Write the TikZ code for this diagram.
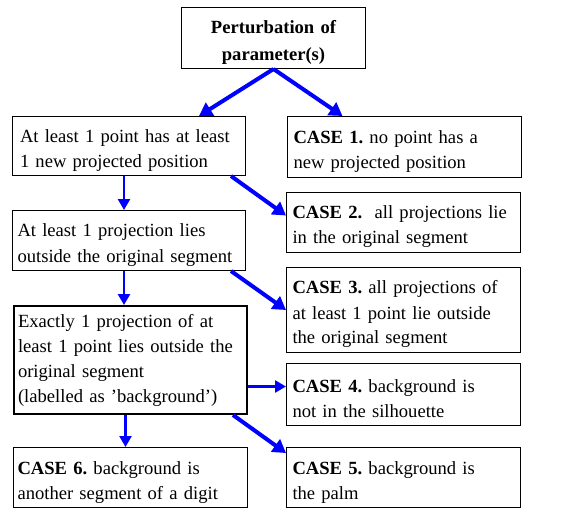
\documentclass[tikz,border=0pt]{standalone}
\usepackage{fontspec}
\setmainfont{Liberation Serif}
\usetikzlibrary{arrows.meta}
\tikzset{
	box/.style={draw,line width=1pt,anchor=north west,align=left,
		font=\fontsize{18.6}{25}\selectfont\frenchspacing,inner ysep=2pt,
		execute at begin node={\rule{0pt}{#1}}},
	box/.default=22pt,
	flow/.style={blue,line width=2.5pt,-{Triangle[length=11pt,width=12pt]}},
	bigflow/.style={blue,line width=4pt,-{Triangle[length=13pt,width=15pt]}}
}
\begin{document}
\begin{tikzpicture}[x=1pt,y=-1pt]
	\useasboundingbox (0,0) rectangle (564,509);
	% boxes
	\node[box,align=center,text width=170pt,minimum height=61pt,inner xsep=7pt,
		font=\fontsize{18.6}{27}\selectfont\bfseries] (top) at (181,7) {Perturbation of\\parameter(s)};
	\node[box,text width=218pt,inner xsep=7.5pt,minimum height=59pt] (least) at (12,116)
		{At least 1 point has at least\\1 new projected position};
	\node[box,text width=222pt,inner xsep=6pt,minimum height=61pt] (case1) at (287,116)
		{\textbf{CASE 1.} no point has a\\new projected position};
	\node[box,text width=223pt,inner xsep=5pt,minimum height=60pt] (outside) at (12,210)
		{At least 1 projection lies\\outside the original segment};
	\node[box,text width=222pt,inner xsep=6pt,minimum height=60pt] (case2) at (286,192)
		{\textbf{CASE 2.}\ \ all projections lie\\in the original segment};
	\node[box,text width=222pt,inner xsep=6pt,minimum height=85pt] (case3) at (286,267)
		{\textbf{CASE 3.} all projections of\\at least 1 point lie outside\\the original segment};
	\node[box=12pt,line width=2pt,text width=225pt,inner xsep=4pt,minimum height=108pt] (exactly) at (13,305)
		{Exactly 1 projection of at\\least 1 point lies outside the\\original segment\\(labelled as ’background’)};
	\node[box,text width=222pt,inner xsep=6pt,minimum height=62pt] (case4) at (286,363)
		{\textbf{CASE 4.} background is\\not in the silhouette};
	\node[box,text width=226pt,inner xsep=4pt,minimum height=60pt] (case6) at (13,447)
		{\textbf{CASE 6.} background is\\another segment of a digit};
	\node[box,text width=222pt,inner xsep=6pt,minimum height=60pt] (case5) at (286,447)
		{\textbf{CASE 5.} background is\\the palm};
	% arrows
	\draw[bigflow] (top.south) -- ([xshift=70pt]least.north);
	\draw[bigflow] (top.south) -- ([xshift=-62pt]case1.north);
	\draw[flow] ([xshift=-5pt]least.south) -- ([xshift=-5pt]least.south |- outside.north);
	\draw[bigflow] ([xshift=-15pt]least.south east) -- ([yshift=7pt]case2.west);
	\draw[flow] ([xshift=-5pt]outside.south) -- ([xshift=-5pt]outside.south |- exactly.north);
	\draw[bigflow] ([xshift=-15pt]outside.south east) -- (case3.west);
	\draw[flow] ([yshift=8pt]case4.west -| exactly.east) -- ([yshift=8pt]case4.west);
	\draw[flow] ([xshift=-5pt]exactly.south) -- ([xshift=-5pt]exactly.south |- case6.north);
	\draw[bigflow] ([xshift=-15pt]exactly.south east) -- ([yshift=-6pt]case5.north west);
\end{tikzpicture}
\end{document}
